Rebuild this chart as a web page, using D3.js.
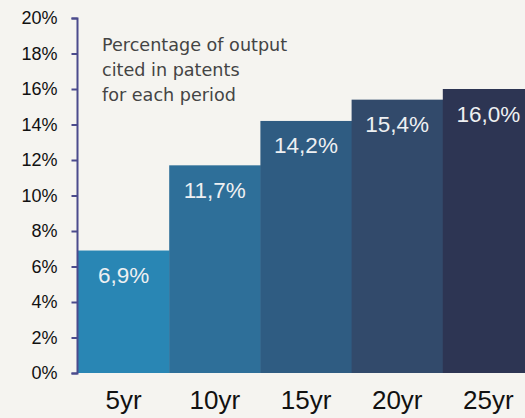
<!DOCTYPE html>
<html><head><meta charset="utf-8">
<script src="https://cdn.jsdelivr.net/npm/d3@7"></script>
<style>html,body{margin:0;padding:0;background:#f5f4f0;overflow:hidden}</style>
</head><body>
<svg id="c" width="525" height="418"></svg>
<script>
const categories = ["5yr","10yr","15yr","20yr","25yr"];
const values = [6.9, 11.7, 14.2, 15.4, 16.0];
const valueLabels = ["6,9%","11,7%","14,2%","15,4%","16,0%"];
const barColors = ["#2986b4","#2e6f99","#2f5c82","#324a6b","#2d3553"];
const yTicks = [0,2,4,6,8,10,12,14,16,18,20];
const noteLines = ["Percentage of output","cited in patents","for each period"];

const svg = d3.select("#c");
svg.append("rect").attr("width",525).attr("height",418).attr("fill","#f5f4f0");
const x = d3.scaleBand().domain(categories).range([78, 534]).padding(0);
const y = d3.scaleLinear().domain([0,20]).range([373, 18]);

svg.selectAll("rect.bar").data(values).join("rect").attr("class","bar")
  .attr("x",(d,i)=>x(categories[i])).attr("width",x.bandwidth()+0.5)
  .attr("y",d=>y(d)).attr("height",d=>y(0)-y(d))
  .attr("fill",(d,i)=>barColors[i]);

svg.selectAll("text.vl").data(values).join("text").attr("class","vl")
  .attr("x",(d,i)=>x(categories[i])+x.bandwidth()/2)
  .attr("y",d=>y(d)+32.5)
  .attr("text-anchor","middle")
  .attr("font-family","Liberation Sans, Arial, sans-serif")
  .attr("font-size",22.5).attr("fill","#eef0f2")
  .text((d,i)=>valueLabels[i]);

const yAxis = d3.axisLeft(y).tickValues(yTicks).tickFormat(d=>d+"%").tickSize(6).tickPadding(14);
const ya = svg.append("g").attr("transform","translate(77.5,0)").call(yAxis);
ya.select(".domain").attr("stroke","#4b4b8c").attr("stroke-width",2).attr("d","M-6,18.5H0V373.5H-6");
ya.selectAll(".tick line").attr("stroke","#4b4b8c").attr("stroke-width",2);
ya.selectAll(".tick text").attr("font-family","Liberation Sans, Arial, sans-serif")
  .attr("font-size",18).attr("fill","#111");

const xAxis = d3.axisBottom(x).tickSize(0).tickPadding(18);
const xa = svg.append("g").attr("transform","translate(0,373)").call(xAxis);
xa.select(".domain").remove();
xa.selectAll(".tick text").attr("font-family","Liberation Sans, Arial, sans-serif")
  .attr("font-size",26).attr("fill","#111");

svg.append("g").selectAll("text").data(noteLines).join("text")
  .attr("x",102).attr("y",(d,i)=>51+i*25)
  .attr("font-family","DejaVu Sans, Verdana, sans-serif")
  .attr("font-size",17.6).attr("fill","#444")
  .text(d=>d);
</script>
</body></html>
